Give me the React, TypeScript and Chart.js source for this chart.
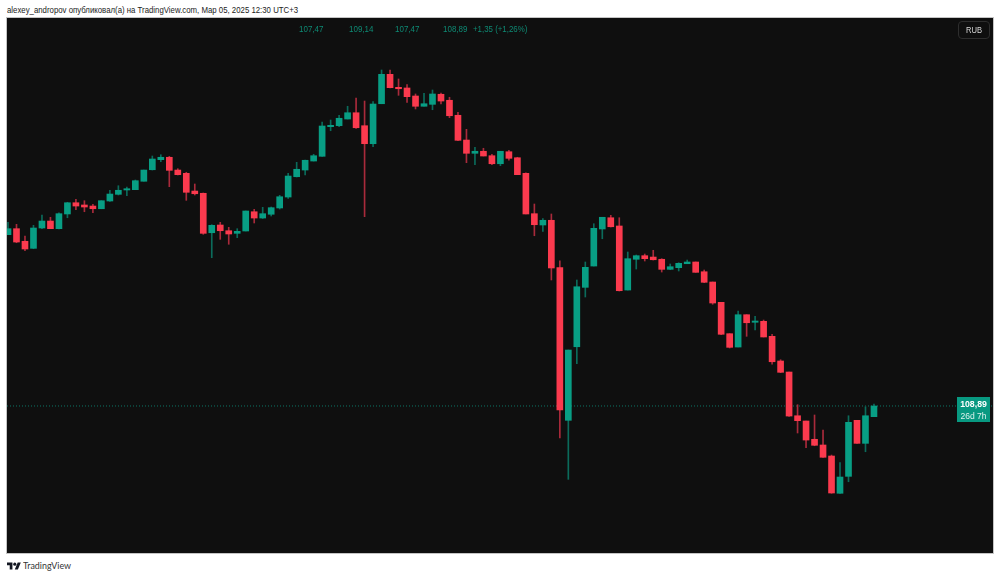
import React, { useEffect, useRef } from "react";
import { Chart, registerables } from "chart.js";

Chart.register(...registerables);

const opens = [131.73,132.53,130.85,129.91,132.62,133.55,132.53,134.49,135.99,135.69,135.55,135.19,136.22,137.11,137.69,137.73,138.85,140.39,141.73,142.05,140.35,139.91,137.55,137.25,131.99,133.02,132.26,131.91,132.22,134.79,133.95,134.45,135.29,136.75,139.46,140.35,141.55,142.18,146.13,146.26,147.15,147.99,146.26,143.86,149.19,153.11,151.38,151.29,150.22,148.85,149.11,150.45,149.65,147.65,144.35,142.58,142.85,142.26,141.19,142.79,141.99,139.91,134.53,133.02,133.65,127.33,106.98,116.79,124.71,127.55,132.49,133.99,132.89,124.35,128.45,128.93,128.75,128.45,127.11,127.33,127.86,128.09,126.79,125.42,122.71,118.53,116.75,121.06,120.05,120.18,118.18,114.89,113.42,107.59,106.89,104.45,103.69,102.22,97.25,99.51,106.98,103.91,107.47];
const highs = [133.38,133.11,131.55,132.98,134.35,134.05,134.66,136.05,136.45,136.26,135.78,136.26,137.65,138.26,138.09,139.02,140.35,142.22,142.39,142.18,140.53,140.05,138.49,137.29,133.06,133.38,132.71,132.53,134.89,135.11,135.38,135.42,136.98,139.91,141.38,141.69,142.45,146.75,147.02,147.65,148.85,149.95,149.55,149.46,153.69,153.69,152.49,151.73,150.49,150.58,151.02,150.62,150.05,148.05,145.78,143.38,143.25,142.45,142.85,142.98,142.05,139.99,135.82,133.89,134.49,128.26,116.35,125.69,128.09,133.19,134.05,134.31,133.99,129.42,129.02,129.15,129.65,128.53,127.82,127.99,128.35,128.09,127.02,125.42,122.71,118.53,121.55,121.06,120.85,120.35,118.45,115.06,113.42,109.06,106.89,107.69,105.69,102.35,101.33,107.59,106.98,108.79,109.14];
const lows = [131.73,130.66,129.59,129.86,132.53,132.53,132.49,133.99,135.06,134.79,134.66,135.19,136.18,137.02,136.93,137.73,138.85,140.35,141.46,138.13,139.69,136.31,137.02,131.78,128.66,131.11,130.45,131.33,132.22,133.29,133.89,134.22,135.15,136.58,139.42,139.69,141.55,142.18,145.59,146.13,147.15,145.91,134.13,143.46,149.19,151.29,150.31,149.38,148.49,148.85,148.39,149.15,147.33,144.26,141.33,141.06,142.22,141.06,140.93,141.65,139.73,134.49,131.59,132.18,125.69,104.62,99.11,114.53,123.42,127.55,131.19,132.75,124.22,124.35,127.15,128.22,128.35,126.75,127.06,126.89,127.86,126.71,125.33,122.45,118.39,116.62,116.75,118.18,119.02,118.09,114.45,113.33,107.51,105.29,103.33,103.59,102.05,97.25,97.25,98.79,103.91,102.79,107.47];
const closes = [132.53,130.75,129.82,132.62,133.55,132.53,134.53,135.99,135.55,135.42,135.19,136.26,137.15,137.65,137.86,138.93,140.35,141.82,142.05,140.31,139.73,137.38,137.19,131.91,132.98,132.26,131.82,132.18,134.89,133.95,134.53,135.33,136.79,139.55,140.45,141.65,142.26,146.22,146.31,147.25,147.99,145.99,143.86,149.15,153.11,151.33,151.19,150.13,148.85,149.19,150.49,149.55,147.59,144.31,142.58,142.85,142.22,141.19,142.85,141.91,139.73,134.49,133.06,133.65,127.29,108.35,116.35,124.79,127.38,132.58,134.05,132.79,124.26,128.53,128.93,128.53,128.39,127.11,127.46,127.91,128.09,126.71,125.38,122.62,118.45,116.71,121.06,119.99,120.22,118.09,114.79,113.38,107.55,106.93,104.35,103.65,102.05,97.29,99.42,106.71,103.91,107.59,108.89];

const lastPrice = [108.89, 108.89];
const ohlcLabels = ["107,47", "109,14", "107,47", "108,89"];
const changeLabel = "+1,35 (+1,26%)";
const headerText = "alexey_andropov опубликовал(а) на TradingView.com, Мар 05, 2025 12:30 UTC+3";

const UP = "#089E84";
const DOWN = "#FB3A4E";
const UP_WICK = "#0B6B5B";
const DOWN_WICK = "#A92A3B";
const X_MIN = -0.118;
const X_MAX = 116.02;
const Y_MIN = 89.29;
const Y_MAX = 160.62;

const abs = (left: number, top: number, extra: React.CSSProperties = {}): React.CSSProperties => ({
  position: "absolute",
  left,
  top,
  whiteSpace: "nowrap",
  fontFamily: "'Liberation Sans', sans-serif",
  transformOrigin: "left center",
  ...extra,
});

export default function App() {
  const ref = useRef<HTMLCanvasElement>(null);

  useEffect(() => {
    const isUp = (i: number) => closes[i] >= opens[i];
    const chart = new Chart(ref.current!, {
      data: {
        datasets: [
          {
            type: "line",
            label: "Last price",
            data: [
              { x: X_MIN, y: lastPrice[0] },
              { x: X_MAX, y: lastPrice[1] },
            ],
            borderColor: "#0C7565",
            borderWidth: 1,
            borderDash: [1, 2],
            pointRadius: 0,
            order: 3,
          },
          {
            type: "bar",
            label: "Wick",
            data: opens.map((_, i) => ({ x: i, y: [lows[i], highs[i]] })),
            backgroundColor: opens.map((_, i) => (isUp(i) ? UP_WICK : DOWN_WICK)),
            barThickness: 1,
            grouped: false,
            order: 2,
          },
          {
            type: "bar",
            label: "Body",
            data: opens.map((_, i) => ({ x: i, y: [opens[i], closes[i]] })),
            backgroundColor: opens.map((_, i) => (isUp(i) ? UP : DOWN)),
            barThickness: 6,
            grouped: false,
            order: 1,
          },
        ],
      } as any,
      options: {
        animation: false,
        responsive: false,
        events: [],
        layout: { padding: 0 },
        plugins: { legend: { display: false }, tooltip: { enabled: false } },
        scales: {
          x: { type: "linear", display: false, offset: false, min: X_MIN, max: X_MAX },
          y: { type: "linear", display: false, min: Y_MIN, max: Y_MAX },
        },
      },
    });
    return () => chart.destroy();
  }, []);

  const ohlcX = [299, 349, 395, 443];

  return (
    <div style={{ position: "absolute", left: 0, top: 0, width: 1000, height: 578, background: "#fff", overflow: "hidden" }}>
      <div style={abs(7, 3.5, { fontSize: 9.5, lineHeight: "12px", color: "#222", transform: "scaleX(0.822)" })}>{headerText}</div>
      <canvas
        ref={ref}
        width={986}
        height={535}
        style={{ position: "absolute", left: 7, top: 18, width: 986, height: 535, background: "#0F0F0F", display: "block", outline: "1px solid #C4C4C4" }}
      />
      {ohlcLabels.map((t, i) => (
        <div key={i} style={abs(ohlcX[i], 23, { fontSize: 9.5, lineHeight: "12px", color: "#0E8A74", transform: "scaleX(0.84)" })}>{t}</div>
      ))}
      <div style={abs(473, 23, { fontSize: 9.5, lineHeight: "12px", color: "#0E8A74", transform: "scaleX(0.83)" })}>{changeLabel}</div>
      <div
        style={abs(958, 21, {
          width: 30,
          height: 16,
          border: "1px solid #2E2E2E",
          borderRadius: 4,
          lineHeight: "16px",
          textAlign: "center",
        })}
      >
        <div style={{ fontSize: 9.5, color: "#D8D8D8", transform: "scaleX(0.8)", transformOrigin: "center" }}>RUB</div>
      </div>
      <div
        style={abs(957, 397, {
          width: 33,
          height: 25,
          background: "#089981",
          color: "#fff",
          fontSize: 9.5,
          lineHeight: "11.5px",
          textAlign: "center",
          paddingTop: 1,
          boxSizing: "border-box",
        })}
      >
        <div style={{ fontWeight: 700, transform: "scaleX(0.92)", transformOrigin: "center" }}>108,89</div>
        <div style={{ color: "#DDF2EE", transform: "scaleX(0.9)", transformOrigin: "center" }}>26d 7h</div>
      </div>
      <svg style={{ position: "absolute", left: 7, top: 561 }} width="14" height="11" viewBox="0 0 36 28">
        <path fill="#131722" d="M14 22H7V11H0V4h14v18zM28 22h-8l7.5-18h8L28 22z" />
        <circle fill="#131722" cx="20" cy="8" r="4" />
      </svg>
      <div style={abs(23, 559, { fontSize: 10, lineHeight: "13px", color: "#333", fontFamily: "Lato, sans-serif", transform: "scaleX(0.89)" })}>TradingView</div>
    </div>
  );
}
